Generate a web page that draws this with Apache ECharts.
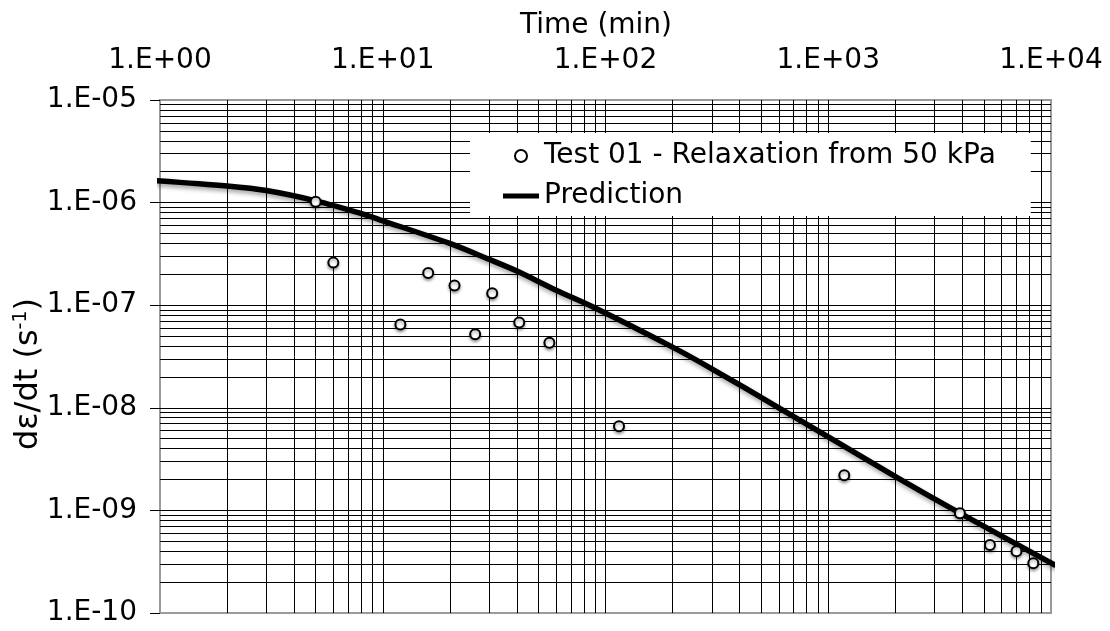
<!DOCTYPE html>
<html>
<head>
<meta charset="utf-8">
<script src="https://cdn.jsdelivr.net/npm/echarts@6/dist/echarts.min.js"></script>
<style>
  html, body { margin: 0; padding: 0; background: #fff; }
  #chart { width: 1110px; height: 631px; }
</style>
</head>
<body>
<div id="chart"></div>
<script>
// Measured relaxation strain rate (Test 01) vs time
const testTime = [5, 6, 12, 16, 21, 26, 31, 41, 56, 115, 1180, 3900, 5320, 7000, 8330];
const testRate = [1.02e-6, 2.6e-7, 6.5e-8, 2.06e-7, 1.56e-7, 5.2e-8, 1.31e-7, 6.8e-8, 4.3e-8,
                  6.6e-9, 2.2e-9, 9.4e-10, 4.6e-10, 4.0e-10, 3.05e-10];

// Model prediction curve
const predTime = [0.95, 2, 3, 5, 7.9, 9.7, 20, 30, 40, 60, 88, 200, 300, 600, 1000, 2030, 3900, 10500];
const predRate = [1.64e-6, 1.45e-6, 1.31e-6, 1.04e-6, 7.9e-7, 6.8e-7, 4.0e-7, 2.8e-7, 2.15e-7, 1.4e-7,
                  9.6e-8, 3.9e-8, 2.4e-8, 1.0e-8, 5.2e-9, 2.1e-9, 9.4e-10, 2.9e-10];

// Axis tick labels (one per decade)
const xTickLabels = ['1.E+00', '1.E+01', '1.E+02', '1.E+03', '1.E+04'];
const yTickLabels = ['1.E-10', '1.E-09', '1.E-08', '1.E-07', '1.E-06', '1.E-05'];

const seriesNames = ['Test 01 - Relaxation from 50 kPa', 'Prediction'];

const FONT = 'DejaVu Sans';
const GRID_COLOR = '#000';

// Minor log grid lines at 2..9 within each decade
const xMinor = [];
for (let d = 0; d < 4; d++) for (let k = 2; k <= 9; k++) xMinor.push(k * Math.pow(10, d));
const yMinor = [];
for (let d = -10; d < -5; d++) for (let k = 2; k <= 9; k++) yMinor.push(k * Math.pow(10, d));
const minorLines = xMinor.map(v => ({ xAxis: v })).concat(yMinor.map(v => ({ yAxis: v })));

const chart = echarts.init(document.getElementById('chart'), null, { renderer: 'canvas' });

chart.setOption({
  animation: false,
  backgroundColor: '#fff',
  textStyle: { fontFamily: FONT },
  grid: {
    left: 160, top: 100, width: 891, height: 513,
    show: true, borderColor: '#9a9a9a', borderWidth: 2, backgroundColor: 'transparent'
  },
  xAxis: {
    type: 'log', logBase: 10, position: 'top',
    min: 1, max: 10000, splitNumber: 4,
    axisLine: { show: false },
    axisTick: { show: false },
    axisLabel: {
      margin: 25, fontSize: 28, color: '#000', fontFamily: FONT,
      formatter: v => xTickLabels[Math.round(Math.log10(v))]
    },
    splitLine: { show: true, showMinLine: false, showMaxLine: false, lineStyle: { color: GRID_COLOR, width: 1 } }
  },
  yAxis: {
    type: 'log', logBase: 10,
    min: 1e-10, max: 1e-5, splitNumber: 5,
    axisLine: { show: false },
    axisTick: { show: true, length: 10, lineStyle: { color: '#000', width: 1 } },
    axisLabel: {
      margin: 23, fontSize: 28, color: '#000', fontFamily: FONT,
      formatter: v => yTickLabels[Math.round(Math.log10(v)) + 10]
    },
    splitLine: { show: true, showMinLine: false, showMaxLine: false, lineStyle: { color: GRID_COLOR, width: 1 } }
  },
  legend: {
    orient: 'vertical',
    left: 470, top: 133,
    padding: [8, 35, 5, 33],
    itemGap: 10,
    itemWidth: 36, itemHeight: 12,
    backgroundColor: '#fff',
    selectedMode: false,
    textStyle: { fontSize: 28, lineHeight: 30, color: '#000', fontFamily: FONT },
    data: [
      {
        name: seriesNames[0], icon: 'circle',
        itemStyle: { color: '#fff', borderColor: '#000', borderWidth: 2, shadowBlur: 0, shadowColor: 'transparent', shadowOffsetY: 0 }
      },
      {
        name: seriesNames[1], icon: 'path://M0 0H36V5H0Z',
        itemStyle: { color: '#000', borderWidth: 0, shadowBlur: 0, shadowColor: 'transparent', shadowOffsetY: 0 }
      }
    ]
  },
  graphic: [
    {
      type: 'text', x: 596, y: 26,
      style: { text: 'Time (min)', font: '28px "DejaVu Sans"', fill: '#000', align: 'center', verticalAlign: 'middle' }
    },
    {
      type: 'text', x: 29, y: 374, rotation: Math.PI / 2,
      style: {
        text: '{a|dε/dt (s}{b|-1}{a|)}',
        align: 'center', verticalAlign: 'middle', fill: '#000',
        rich: {
          a: { fontSize: 32, fontFamily: FONT, fill: '#000' },
          b: { fontSize: 19, fontFamily: FONT, fill: '#000', padding: [0, 0, 15, 0] }
        }
      }
    }
  ],
  series: [
    {
      name: seriesNames[0],
      type: 'scatter',
      z: 3,
      data: testTime.map((t, i) => [t, testRate[i]]),
      symbol: 'circle',
      symbolSize: 10,
      itemStyle: {
        color: '#fff', borderColor: '#000', borderWidth: 2, opacity: 1,
        shadowColor: 'rgba(0,0,0,0.35)', shadowBlur: 3, shadowOffsetY: 2
      },
      emphasis: { disabled: true },
      markLine: {
        silent: true, z: 1,
        precision: 20,
        symbol: ['none', 'none'],
        label: { show: false },
        lineStyle: { color: GRID_COLOR, width: 1, type: 'solid' },
        emphasis: { disabled: true },
        data: minorLines
      }
    },
    {
      name: seriesNames[1],
      type: 'line',
      z: 2,
      data: predTime.map((t, i) => [t, predRate[i]]),
      symbol: 'none',
      smooth: 0.3,
      clip: false,
      lineStyle: {
        color: '#000', width: 5.5,
        shadowColor: 'rgba(0,0,0,0.35)', shadowBlur: 4, shadowOffsetY: 3, shadowOffsetX: 1
      },
      itemStyle: { color: '#000' },
      emphasis: { disabled: true }
    }
  ]
});
</script>
</body>
</html>
